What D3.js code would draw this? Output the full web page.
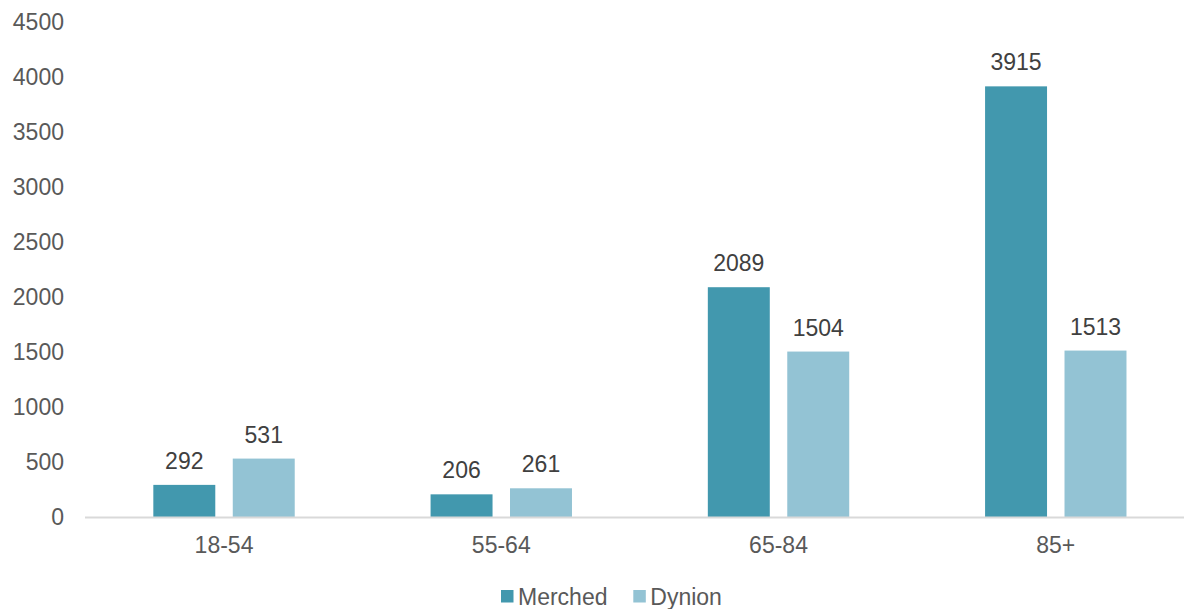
<!DOCTYPE html>
<html><head><meta charset="utf-8">
<script src="https://cdn.jsdelivr.net/npm/d3@7"></script>
<style>body{margin:0;background:#fff}svg{display:block}text{font-family:"Liberation Sans",Arial,sans-serif}</style>
</head><body>
<svg id="c" width="1184" height="609"></svg>
<script>
const categories = ["18-54","55-64","65-84","85+"];
const seriesNames = ["Merched","Dynion"];
const merched = [292,206,2089,3915];
const dynion = [531,261,1504,1513];
const yTicks = [0,500,1000,1500,2000,2500,3000,3500,4000,4500];
const colors = ["#4298AE","#93C3D4"];

const svg = d3.select("#c");
const x0 = d3.scaleBand().domain(categories).range([85.4,1194.4]).paddingInner(0).paddingOuter(0);
const x1 = d3.scaleBand().domain(seriesNames).range([x0.bandwidth()/2-70.7, x0.bandwidth()/2+70.7]).paddingInner(0.22).paddingOuter(0);
const y = d3.scaleLinear().domain([0,4500]).range([517,22]);

// y tick labels
svg.append("g").selectAll("text").data(yTicks).join("text")
  .attr("x",64).attr("y",d=>y(d)).attr("dy","0.35em").attr("text-anchor","end")
  .attr("font-size",23).attr("fill","#595959").text(d=>d);

// bars
const data = categories.map((c,i)=>({c, vals:[merched[i],dynion[i]]}));
const g = svg.append("g").selectAll("g").data(data).join("g")
  .attr("transform",d=>`translate(${x0(d.c)},0)`);
g.selectAll("rect").data(d=>d.vals.map((v,j)=>({v,s:seriesNames[j],j}))).join("rect")
  .attr("x",d=>x1(d.s)).attr("width",x1.bandwidth())
  .attr("y",d=>y(d.v)).attr("height",d=>y(0)-y(d.v))
  .attr("fill",d=>colors[d.j]);
g.selectAll("text").data(d=>d.vals.map((v,j)=>({v,s:seriesNames[j],j}))).join("text")
  .attr("x",d=>x1(d.s)+x1.bandwidth()/2).attr("y",d=>y(d.v)-16)
  .attr("text-anchor","middle").attr("font-size",23).attr("fill","#404040").text(d=>d.v);

// axis line
svg.append("line").attr("x1",85).attr("x2",1184).attr("y1",y(0)+0.5).attr("y2",y(0)+0.5)
  .attr("stroke","#D9D9D9").attr("stroke-width",2);

// x labels
svg.append("g").selectAll("text").data(categories).join("text")
  .attr("x",d=>x0(d)+x0.bandwidth()/2).attr("y",545).attr("dy","0.35em")
  .attr("text-anchor","middle").attr("font-size",23).attr("fill","#595959").text(d=>d);

// legend
const legX = [501,633.3];
const lg = svg.append("g").selectAll("g").data(seriesNames).join("g")
  .attr("transform",(d,i)=>`translate(${legX[i]},590)`);
lg.append("rect").attr("width",12.5).attr("height",12.5).attr("fill",(d,i)=>colors[i]);
lg.append("text").attr("x",17).attr("y",6.5).attr("dy","0.35em").attr("font-size",23)
  .attr("fill","#595959").text(d=>d);
</script>
</body></html>
